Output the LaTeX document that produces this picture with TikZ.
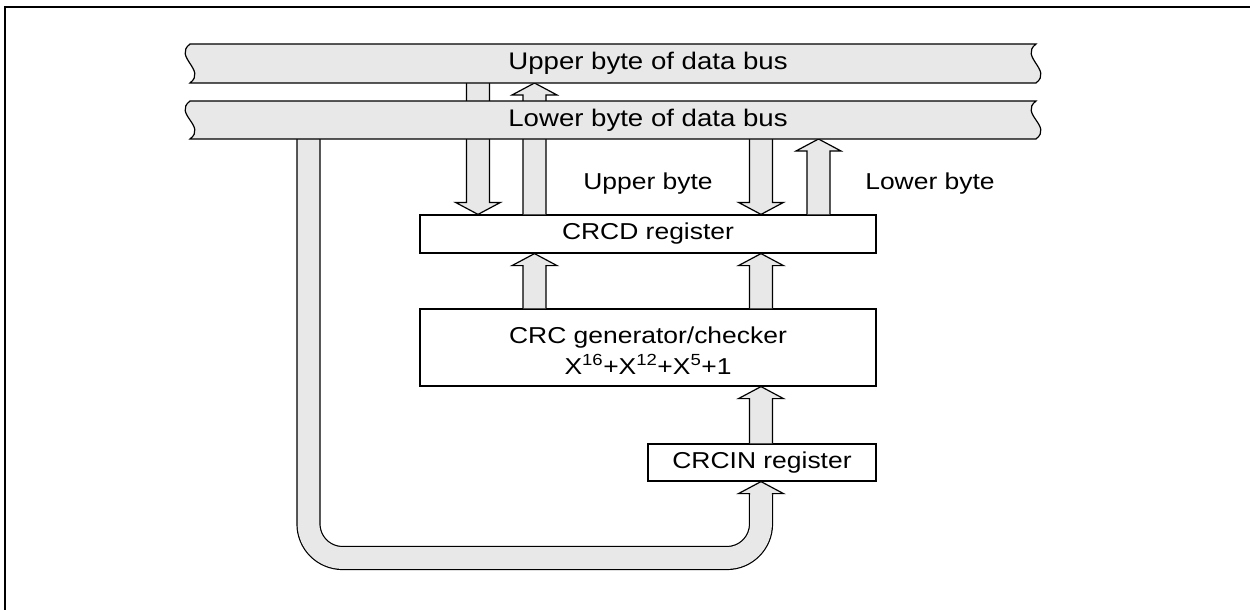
\documentclass[tikz,border=0pt]{standalone}
\usepackage{fontspec}
\setmainfont{Liberation Sans}[FakeStretch=1.15]
\usetikzlibrary{calc}
\definecolor{busgray}{RGB}{232,232,232}
\tikzset{
  ln/.style={line width=1.2pt, line join=miter},
  boxnode/.style={draw, ln, fill=white, inner sep=0pt, font=\fontsize{23}{26}\selectfont},
  txt/.style={inner sep=0pt, font=\fontsize{23}{26}\selectfont},
  bustxt/.style={inner sep=0pt, font=\fontsize{24}{27}\selectfont},
  busshape/.style={draw, ln, fill=busgray},
  pipe/.style={line width=1.2pt, double=busgray, double distance=21.8pt, rounded corners=34pt}
}
% block arrow upward: #1 base point, #2 tip point
\newcommand\uparr[2]{%
  \fill[busgray] let \p1=#1, \p2=#2 in (\x1-11.5pt,\y1) -- (\x1-11.5pt,\y2-12pt) -- (\x1-22.5pt,\y2-12pt) -- (\x2,\y2) -- (\x1+22.5pt,\y2-12pt) -- (\x1+11.5pt,\y2-12pt) -- (\x1+11.5pt,\y1) -- cycle;
  \draw[ln] let \p1=#1, \p2=#2 in (\x1-11.5pt,\y1) -- (\x1-11.5pt,\y2-12pt) -- (\x1-22.5pt,\y2-12pt) -- (\x2,\y2) -- (\x1+22.5pt,\y2-12pt) -- (\x1+11.5pt,\y2-12pt) -- (\x1+11.5pt,\y1);
}
% block arrow downward
\newcommand\dnarr[2]{%
  \fill[busgray] let \p1=#1, \p2=#2 in (\x1-11.5pt,\y1) -- (\x1-11.5pt,\y2+12pt) -- (\x1-22.5pt,\y2+12pt) -- (\x2,\y2) -- (\x1+22.5pt,\y2+12pt) -- (\x1+11.5pt,\y2+12pt) -- (\x1+11.5pt,\y1) -- cycle;
  \draw[ln] let \p1=#1, \p2=#2 in (\x1-11.5pt,\y1) -- (\x1-11.5pt,\y2+12pt) -- (\x1-22.5pt,\y2+12pt) -- (\x2,\y2) -- (\x1+22.5pt,\y2+12pt) -- (\x1+11.5pt,\y2+12pt) -- (\x1+11.5pt,\y1);
}
\begin{document}
\begin{tikzpicture}[x=1pt,y=-1pt]
\useasboundingbox (0,0) rectangle (1250,610);
% frame
\draw[line width=2.5pt] (5,612) -- (5,7) -- (1252,7);
% columns and levels
\coordinate (cA) at (478,0);
\coordinate (cB) at (534.5,0);
\coordinate (cC) at (761,0);
\coordinate (cD) at (818.5,0);
\coordinate (cP) at (308.5,0);
\coordinate (ub) at (0,83);
\coordinate (lb) at (0,139);
\coordinate (pipebot) at (0,558);
% boxes
\node[boxnode, minimum width=456pt, minimum height=38pt] (crcd) at (648,234) {CRCD register};
\node[boxnode, minimum width=456pt, minimum height=77pt] (gen) at (648,347.5) {};
\node[txt, align=center] (gentext) at ($(gen.center)+(0,3)$) {CRC generator/checker\\[5pt]X\textsuperscript{16}+X\textsuperscript{12}+X\textsuperscript{5}+1};
\node[boxnode, minimum width=228pt, minimum height=37pt] (crcin) at (762,462.5) {CRCIN register};
% arrows between upper bus and CRCD
\dnarr{(ub -| cA)}{(crcd.north -| cA)}
\uparr{(crcd.north -| cB)}{(ub -| cB)}
% arrows between lower bus and CRCD
\dnarr{(lb -| cC)}{(crcd.north -| cC)}
\uparr{(crcd.north -| cD)}{(lb -| cD)}
% generator to CRCD
\uparr{(gen.north -| cB)}{(crcd.south -| cB)}
\uparr{(gen.north -| cC)}{(crcd.south -| cC)}
% CRCIN to generator
\uparr{(crcin.north -| cC)}{(gen.south -| cC)}
% pipe from lower bus to CRCIN
\coordinate (pipeend) at ($(crcin.south -| cC)+(0,12)$);
\draw[pipe] (lb -| cP) -- (pipebot -| cP) -- (pipebot -| cC) -- (pipeend);
\uparr{($(pipeend)+(0,1)$)}{(crcin.south -| cC)}
% buses
\draw[busshape] (190,101) -- (1036,101) .. controls (1019,114) and (1053,126) .. (1036,139) -- (190,139) .. controls (207,126) and (173,114) .. (190,101) -- cycle;
\node[bustxt] (lbus) at (648,120) {Lower byte of data bus};
\draw[busshape] (190,44) -- (1036,44) .. controls (1019,57) and (1053,70) .. (1036,83) -- (190,83) .. controls (207,70) and (173,57) .. (190,44) -- cycle;
\node[bustxt] (ubus) at (648,63) {Upper byte of data bus};
% labels
\node[txt] (ulab) at (648,184) {Upper byte};
\node[txt] (llab) at (930,184) {Lower byte};
\end{tikzpicture}
\end{document}
